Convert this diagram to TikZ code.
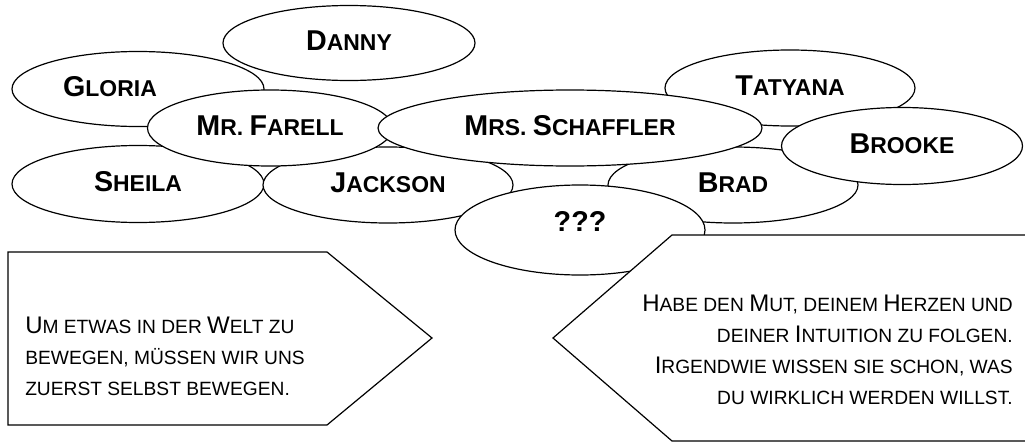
\documentclass[tikz,border=0pt]{standalone}
\usepackage{fontspec}
\setmainfont{Liberation Sans}
\usetikzlibrary{shapes.geometric}

% capital letters of the fake small caps
\newcommand{\nmcap}[1]{{\fontsize{21.5pt}{24pt}\selectfont #1}}
\newcommand{\txcap}[1]{{\fontsize{18pt}{22pt}\selectfont #1}}

\tikzset{
	person/.style 2 args={ellipse, draw=black, fill=white, line width=0.9pt, inner sep=0pt,
		minimum width=#1*0.75pt, minimum height=#2*0.75pt, text depth=4pt,
		font=\fontsize{17.2pt}{20pt}\selectfont\bfseries},
	nametext/.style={inner sep=0pt, font=\fontsize{17.2pt}{20pt}\selectfont\bfseries},
	sign/.style={draw=black, fill=white, line width=0.9pt, line join=miter},
	signtext/.style={inner sep=0pt, font=\fontsize{14.4pt}{#1}\selectfont},
}

\begin{document}
\begin{tikzpicture}[x=0.75pt,y=-0.75pt]
	\useasboundingbox (0,0) rectangle (1025,446);
	\clip (0,0) rectangle (1025,446);
	\fill[white] (0,0) rectangle (1025,446);
	% bottom layer of names
	\node[person={252}{75}] (danny) at (349,43) {\nmcap{D}ANNY};
	\node[person={252}{75}] (gloria) at (138,89) {};
	\node[nametext, anchor=base] (glorialabel) at (110,96) {\nmcap{G}LORIA};
	\node[person={250}{76}] (tatyana) at (790,88) {\nmcap{T}ATYANA};
	\node[person={252}{77}] (sheila) at (138,184) {\nmcap{S}HEILA};
	\node[person={250}{76}] (jackson) at (388,185) {\nmcap{J}ACKSON};
	\node[person={250}{76}] (brad) at (733,185) {\nmcap{B}RAD};
	% names on top
	\node[person={245}{76}] (farell) at (270,128) {\nmcap{M}R. \nmcap{F}ARELL};
	\node[person={384}{76}] (schaffler) at (570,128) {\nmcap{M}RS. \nmcap{S}CHAFFLER};
	\node[person={241}{77}] (brooke) at (902,146) {\nmcap{B}ROOKE};
	\node[person={250}{90}, text depth=13pt] (unknown) at (580,230) {\nmcap{???}};

	% the two signs
	\draw[sign] (8,252) -- (327,252) -- (432,338) -- (327,425) -- (8,425) -- cycle;
	\node[signtext=23.25pt, align=left, anchor=base west] (lefttext) at (25,395)
		{\txcap{U}M ETWAS IN DER \txcap{W}ELT ZU\\BEWEGEN, MÜSSEN WIR UNS\\ZUERST SELBST BEWEGEN.};
	\draw[sign] (1035,235) -- (672,235) -- (553,338) -- (672,441) -- (1035,441) -- cycle;
	\node[signtext=23.25pt, align=right, anchor=base east] (righttext) at (1013,404)
		{\txcap{H}ABE DEN \txcap{M}UT, DEINEM \txcap{H}ERZEN UND\\DEINER \txcap{I}NTUITION ZU FOLGEN.\\\txcap{I}RGENDWIE WISSEN SIE SCHON, WAS\\DU WIRKLICH WERDEN WILLST.};
\end{tikzpicture}
\end{document}
